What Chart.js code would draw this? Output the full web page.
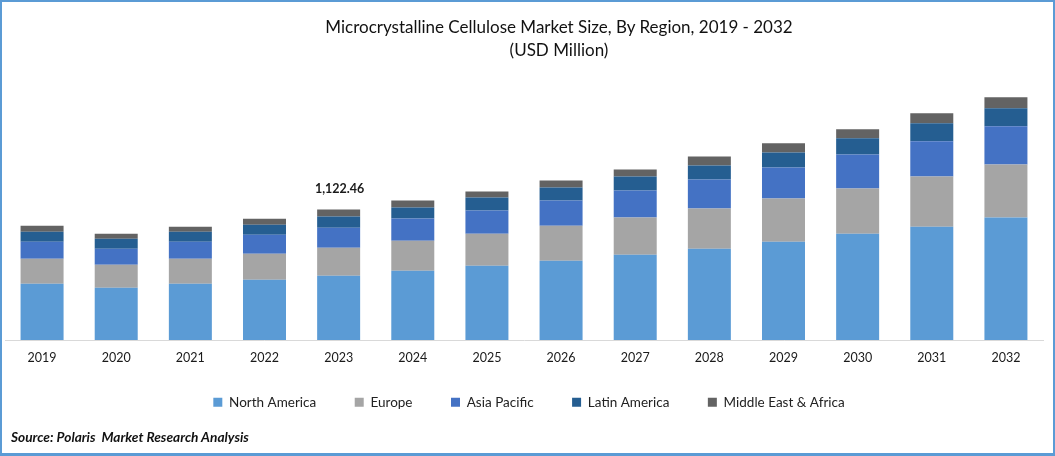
<!DOCTYPE html>
<html>
<head>
<meta charset="utf-8">
<title>Microcrystalline Cellulose Market Size</title>
<script src="https://cdn.jsdelivr.net/npm/chart.js@4"></script>
<style>
  html, body { margin: 0; padding: 0; background: #fff; }
  #frame { position: relative; width: 1055px; height: 456px; overflow: hidden; font-family: Lato, sans-serif; }
  #frame:after { content: ''; position: absolute; inset: 0; border: solid #5b9bd5; border-width: 2px 2px 3px 2px; pointer-events: none; }
  canvas { display: block; }
  #chartTitle { position: absolute; left: 259px; width: 600px; top: 15px; text-align: center; font-size: 17px; line-height: 23px; color: #111; white-space: nowrap; }
  #chartSource { position: absolute; left: 11px; top: 429px; font-size: 13.7px; line-height: 16px; font-weight: bold; font-style: italic; color: #111; white-space: pre; }
</style>
</head>
<body>
<div id="frame">
  <canvas id="marketChart" width="1055" height="456"></canvas>
  <div id="chartTitle"></div>
  <div id="chartSource"></div>
</div>
<script>
// Values, USD million
const years = ['2019', '2020', '2021', '2022', '2023', '2024', '2025', '2026', '2027', '2028', '2029', '2030', '2031', '2032'];
const northAmerica = [483.5, 449, 483.5, 518, 552.5, 595.7, 639, 682, 733.9, 785.7, 846.1, 915.2, 975.6, 1053.3];
const europe = [215.9, 198.6, 215.9, 224.5, 241.8, 259, 276.3, 302.2, 319.5, 345.4, 371.3, 388.5, 431.7, 457.6];
const asiaPacific = [146.8, 138.1, 146.8, 164, 172.7, 190, 198.6, 215.9, 233.1, 250.4, 267.7, 293.6, 302.2, 328.1];
const latinAmerica = [86.3, 86.3, 86.3, 86.3, 95, 95, 112.2, 112.2, 120.9, 120.9, 129.5, 138.1, 155.4, 155.4];
const middleEastAfrica = [51.8, 43.2, 43.2, 51.8, 60.46, 60.4, 51.8, 60.4, 60.4, 77.7, 77.7, 77.7, 86.3, 95];

const titleLines = ['Microcrystalline Cellulose Market Size, By Region, 2019 - 2032', '(USD Million)'];
const sourceText = 'Source: Polaris  Market Research Analysis';
const labelYear = '2023';
const labelText = '1,122.46';

const fontName = 'Lato';

document.getElementById('chartTitle').innerHTML = titleLines.join('<br>');
document.getElementById('chartSource').textContent = sourceText;

// Etiqueta del total encima de la barra de 2023
const totalLabel = {
    id: 'totalLabel',
    afterDatasetsDraw(chart) {
        const i = years.indexOf(labelYear);
        const top = chart.getDatasetMeta(4).data[i];
        const ctx = chart.ctx;
        ctx.save();
        ctx.font = 'bold 12.5px ' + fontName;
        ctx.fillStyle = '#1a1a1a';
        ctx.textAlign = 'center';
        ctx.textBaseline = 'bottom';
        ctx.fillText(labelText, top.x + 1, top.y - 14);
        ctx.restore();
    }
};

// The legend's padding sets both the item gap and its height, so lift it closer to the ticks
const legendNudge = {
    id: 'legendNudge',
    afterLayout(chart) {
        chart.legend.top -= 18;
        chart.legend.left += 5;
        chart.legend.right += 5;
    }
};

function makeSet(label, data, color) {
    return { label: label, data: data, backgroundColor: color, stack: 'a', barPercentage: 0.58, categoryPercentage: 1 };
}

new Chart(document.getElementById('marketChart'), {
    type: 'bar',
    data: {
        labels: years,
        datasets: [
            makeSet('North America', northAmerica, '#5b9bd5'),
            makeSet('Europe', europe, '#a5a5a5'),
            makeSet('Asia Pacific', asiaPacific, '#4472c4'),
            makeSet('Latin America', latinAmerica, '#255e91'),
            makeSet('Middle East & Africa', middleEastAfrica, '#636363')
        ]
    },
    options: {
        responsive: false,
        animation: false,
        layout: { padding: { left: 5, right: 12, top: 96, bottom: 19 } },
        scales: {
            x: {
                stacked: true,
                grid: { display: false, drawTicks: false },
                border: { color: '#d9d9d9', width: 1 },
                ticks: { color: '#1a1a1a', font: { family: fontName, size: 12.5 }, padding: 10 }
            },
            y: { stacked: true, display: false, min: 0, max: 2100 }
        },
        plugins: {
            tooltip: { enabled: false },
            title: { display: false },
            legend: {
                position: 'bottom',
                labels: {
                    boxWidth: 9,
                    boxHeight: 9,
                    padding: 38.5,
                    color: '#222',
                    font: { family: fontName, size: 13.5 }
                }
            }
        }
    },
    plugins: [totalLabel, legendNudge]
});
</script>
</body>
</html>
